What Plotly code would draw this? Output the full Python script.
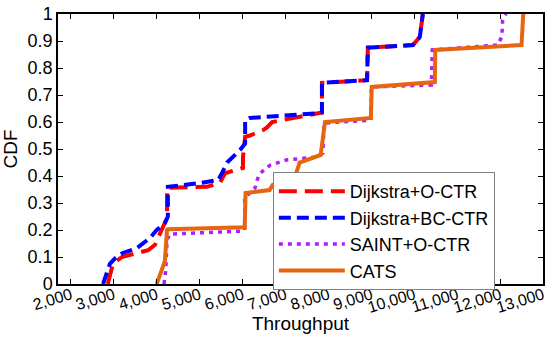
import plotly.graph_objects as go

# Dijkstra+O-CTR
red_x = [2860, 2980, 3190, 3610, 3800, 3960, 4030, 4190, 4240, 4240, 5170, 5470, 5590, 6010, 6010, 6060,
         6170, 6480, 6570, 6690, 7800, 7850, 7850, 8900, 8920, 9970, 10130, 10180, 10200]
red_y = [0, 0.075, 0.10, 0.118, 0.125, 0.145, 0.17, 0.23, 0.245, 0.356, 0.36, 0.374, 0.41, 0.43, 0.47, 0.545,
         0.55, 0.57, 0.58, 0.60, 0.633, 0.635, 0.745, 0.755, 0.875, 0.885, 0.915, 0.99, 1.0]

# Dijkstra+BC-CTR
blue_x = [2750, 2910, 3030, 3210, 3540, 3840, 4000, 4190, 4260, 4260, 5010, 5430, 5520, 5640, 5940, 6060,
          6060, 6170, 7800, 7850, 7850, 8900, 8920, 9970, 10130, 10180, 10200]
blue_y = [0, 0.075, 0.095, 0.115, 0.133, 0.17, 0.2, 0.225, 0.25, 0.36, 0.374, 0.385, 0.41, 0.45, 0.496, 0.52,
          0.607, 0.615, 0.633, 0.635, 0.745, 0.755, 0.875, 0.885, 0.915, 0.99, 1.0]

# SAINT+O-CTR
purple_x = [4170, 4210, 4240, 4300, 6000, 6050, 6050, 6290, 6340, 6410, 6640, 7040, 7730, 7870, 7900, 8990,
            9000, 10400, 10420, 11940, 12040, 12060, 12140]
purple_y = [0, 0.05, 0.16, 0.185, 0.196, 0.2, 0.32, 0.355, 0.385, 0.41, 0.44, 0.46, 0.47, 0.485, 0.596, 0.607,
            0.73, 0.737, 0.867, 0.885, 0.915, 0.977, 1.0]

# CATS
orange_x = [4000, 4190, 4240, 4260, 6050, 6070, 6630, 6700, 7170, 7260, 7330, 7820, 7920, 8990, 9010, 10480,
            10490, 12500, 12540]
orange_y = [0, 0.085, 0.2, 0.203, 0.21, 0.337, 0.348, 0.367, 0.385, 0.415, 0.45, 0.478, 0.6, 0.615, 0.73, 0.748,
            0.867, 0.885, 1.0]

x_ticks = list(range(2000, 13001, 1000))
y_ticks = [round(i * 0.1, 1) for i in range(11)]

fig = go.Figure()
fig.add_trace(go.Scatter(x=red_x, y=red_y, mode="lines", name="Dijkstra+O-CTR",
                         line=dict(color="#ff0000", width=4, dash="18px,8px")))
fig.add_trace(go.Scatter(x=blue_x, y=blue_y, mode="lines", name="Dijkstra+BC-CTR",
                         line=dict(color="#0000ff", width=4, dash="12px,6px")))
fig.add_trace(go.Scatter(x=purple_x, y=purple_y, mode="lines", name="SAINT+O-CTR",
                         line=dict(color="#b31aff", width=3.5, dash="4px,5px")))
fig.add_trace(go.Scatter(x=orange_x, y=orange_y, mode="lines", name="CATS",
                         line=dict(color="#e8650f", width=4)))

font_family = "Liberation Sans, Arial, sans-serif"
fig.update_layout(
    width=550, height=342,
    margin=dict(l=58, r=7, t=14, b=58, autoexpand=False),
    paper_bgcolor="white", plot_bgcolor="white",
    font=dict(family=font_family, size=18, color="black"),
    showlegend=True,
    legend=dict(x=0.443, y=0.196, xanchor="left", yanchor="middle",
                bgcolor="white", bordercolor="#808080", borderwidth=1,
                font=dict(size=18), tracegroupgap=0, itemwidth=66),
    xaxis=dict(range=[1700, 13000], tickvals=x_ticks, tickformat=",d", tickangle=-17,
               ticks="inside", ticklen=5, tickcolor="black", showline=True, linecolor="black",
               linewidth=1.5, mirror="allticks", showgrid=False, zeroline=False, automargin=False,
               tickfont=dict(size=16), ticklabelstandoff=-6, ticklabeloverflow="allow",
               title=dict(text="Throughput", font=dict(size=19), standoff=2)),
    yaxis=dict(range=[0, 1], tickvals=y_ticks, ticks="inside", ticklen=5, tickcolor="black",
               showline=True, linecolor="black", linewidth=1.5, mirror="allticks", automargin=False,
               showgrid=False, zeroline=False, tickfont=dict(size=18), ticklabeloverflow="allow",
               title=dict(text="CDF", font=dict(size=19), standoff=6)),
)

# remove the browser's default 8px page margin so the 550x342 figure fills the window
fig.write_html("out.html", config={"displayModeBar": False},
               post_script="document.body.style.margin='0';")
